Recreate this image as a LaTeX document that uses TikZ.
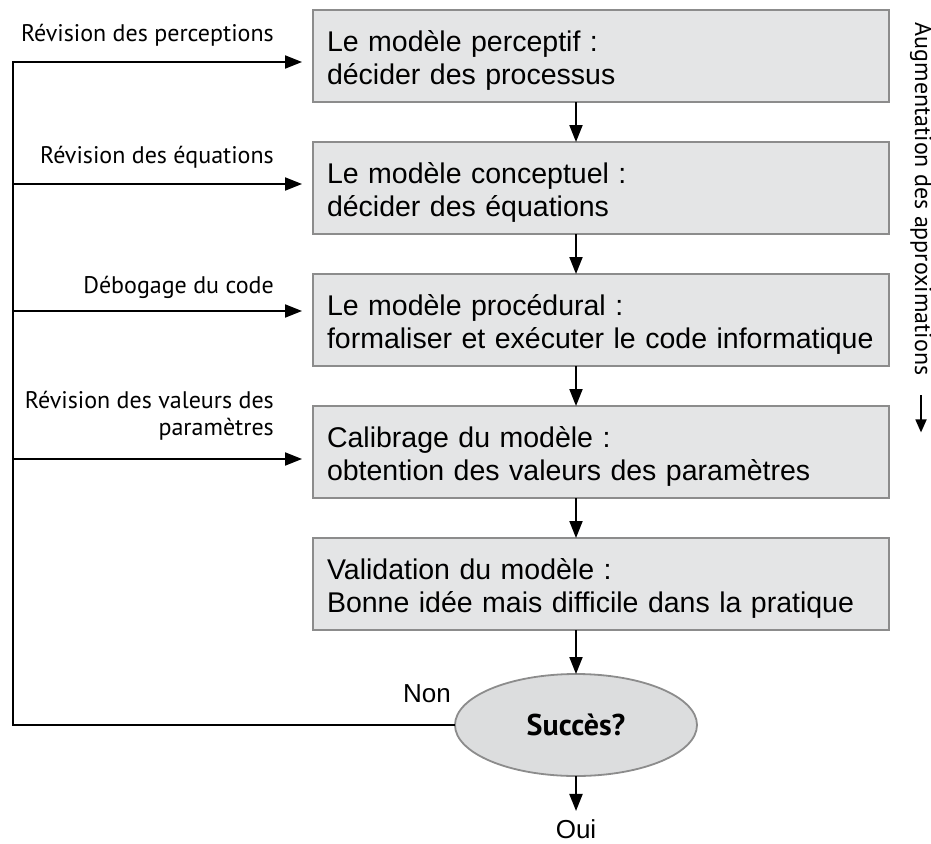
\documentclass[tikz,border=0pt]{standalone}
\usepackage{fontspec}
\setmainfont{Liberation Sans}
\newfontfamily\labelfont{PT Sans}
\usetikzlibrary{arrows.meta,shapes.geometric,positioning}
\definecolor{boxgray}{RGB}{228,229,230}
\definecolor{edgegray}{RGB}{140,140,140}
\definecolor{ovalgray}{RGB}{220,221,222}
\begin{document}
\begin{tikzpicture}[x=1pt,y=-1pt,>={Triangle[length=17pt,width=13pt]},
  stepbox/.style={draw=edgegray,fill=boxgray,line width=2pt,outer sep=0pt,
    minimum width=576pt,minimum height=92pt,text width=548pt,inner xsep=14pt,
    inner ysep=0pt,align=left,font=\fontsize{28.5}{33}\selectfont,
    execute at begin node={\rule{0pt}{29pt}}},
  flow/.style={->,line width=2pt},
  note/.style={font=\labelfont\fontsize{24}{27}\selectfont,inner sep=0pt}]
  \useasboundingbox (0,0) rectangle (931,843);
  % the five steps
  \node[stepbox] (m1) at (601,56) {Le modèle perceptif :\\décider des processus};
  \node[stepbox,below=40pt of m1] (m2) {Le modèle conceptuel :\\décider des équations};
  \node[stepbox,below=40pt of m2] (m3) {Le modèle procédural :\\formaliser et exécuter le code informatique};
  \node[stepbox,below=40pt of m3] (m4) {Calibrage du modèle :\\obtention des valeurs des paramètres};
  \node[stepbox,below=40pt of m4] (m5) {Validation du modèle :\\Bonne idée mais difficile dans la pratique};
  % test
  \node[ellipse,draw=edgegray,fill=ovalgray,line width=1.8pt,outer sep=0pt,
    minimum width=242pt,minimum height=102pt,inner sep=0pt,
    font=\labelfont\bfseries\fontsize{30}{33}\selectfont] (ok) at (576,725) {Succès?};
  \node[font=\fontsize{26}{30}\selectfont,anchor=base] (non) at (427,702) {Non};
  \node[font=\fontsize{26}{30}\selectfont,anchor=base,inner sep=0pt] (oui) at (576,838) {Oui};
  \draw[flow] (m1.south -| ok) -- (m2.north -| ok);
  \draw[flow] (m2.south -| ok) -- (m3.north -| ok);
  \draw[flow] (m3.south -| ok) -- (m4.north -| ok);
  \draw[flow] (m4.south -| ok) -- (m5.north -| ok);
  \draw[flow] (m5.south -| ok) -- (ok.north);
  \draw[flow,shorten >=8pt] (ok.south) -- (oui.north);
  % feedback loop
  \coordinate (c1) at (13,62);
  \coordinate (c2) at (13,184);
  \coordinate (c3) at (13,311);
  \coordinate (c4) at (13,459);
  \draw[line width=2pt] (ok.west) -| ([yshift=1pt]c1);
  \foreach \i in {1,...,4}
    \draw[flow,shorten >=11pt] (c\i) -- (c\i -| m\i.west);
  \node[note,anchor=base east] (l1) at (274,42) {Révision des perceptions};
  \node[note,anchor=base east] (l2) at (274,163) {Révision des équations};
  \node[note,anchor=base east] (l3) at (274,293) {Débogage du code};
  \node[note,anchor=south east,align=right] (l4) at (274,440) {Révision des valeurs des\\paramètres};
  % side note
  \node[note,rotate=-90] (aug) at (921,199) {Augmentation des approximations};
  \draw[->,line width=1.8pt,>={Triangle[length=13pt,width=11pt]}]
    ([yshift=-20pt]aug.east) -- ([yshift=-57pt]aug.east);
\end{tikzpicture}
\end{document}
